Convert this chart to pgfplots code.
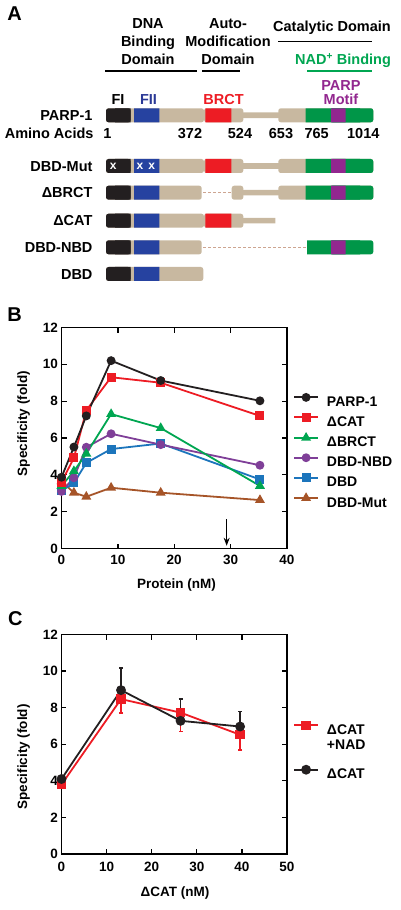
\documentclass[border=0pt]{standalone}
\usepackage{fontspec}
\setmainfont{Liberation Sans}
\usepackage{pgfplots}
\pgfplotsset{compat=1.18}
\usetikzlibrary{arrows.meta}

\definecolor{pblack}{RGB}{35,31,32}
\definecolor{pblue}{RGB}{38,66,160}
\definecolor{beige}{RGB}{200,184,160}
\definecolor{pred}{RGB}{237,28,36}
\definecolor{pgreen}{RGB}{0,150,72}
\definecolor{ppurple}{RGB}{146,39,143}
\definecolor{dashcol}{RGB}{205,165,145}
\definecolor{tgreen}{RGB}{0,166,81}
\definecolor{tblue}{RGB}{43,57,150}
\definecolor{lgreen}{RGB}{0,166,81}
\definecolor{lpurple}{RGB}{127,63,152}
\definecolor{lblue}{RGB}{28,117,188}
\definecolor{lbrown}{RGB}{166,84,40}

\newcommand\shape[6]{%
  \pgfmathsetmacro\ya{#4-#5}\pgfmathsetmacro\yb{#4+#5}%
  \edef\tmp{\noexpand\addplot[fill=#1,draw=none,rounded corners=#6] coordinates {(#2,\ya) (#3,\ya) (#3,\yb) (#2,\yb)} -- cycle;}\tmp}
\newcommand\nterm[1]{%
  \shape{pblack}{106}{130.7}{#1}{7}{2.5pt}\shape{pblack}{115}{130.7}{#1}{7}{0.01pt}%
  \shape{pblue}{134}{159.3}{#1}{7}{0.01pt}}
\newcommand\cterm[1]{%
  \shape{pgreen}{305.7}{360}{#1}{7}{0.01pt}\shape{pgreen}{330}{373.3}{#1}{7}{2.5pt}%
  \shape{ppurple}{331}{345.7}{#1}{7}{0.01pt}}
\newcommand\wholebar[1]{%
  \shape{beige}{240}{281}{#1}{2.8}{0.01pt}%
  \shape{beige}{106}{204}{#1}{7}{2.5pt}%
  \shape{beige}{204}{243.3}{#1}{7}{2.5pt}%
  \shape{beige}{278.3}{373.3}{#1}{7}{2.5pt}%
  \nterm{#1}%
  \shape{pred}{205.3}{231.3}{#1}{7}{0.01pt}%
  \cterm{#1}}

\newcommand\hfont{\fontsize{14.5}{18}\selectfont\bfseries}
\newcommand\tfont{\fontsize{13.5}{15}\selectfont\bfseries}

\begin{document}
\begin{tikzpicture}
\useasboundingbox (0,0) rectangle (400pt,-910pt);
% ---------------- Panel A ----------------
\begin{axis}[at={(0pt,0pt)}, anchor=north west, scale only axis,
  width=400pt, height=910pt, xmin=0, xmax=400, ymin=-910, ymax=0,
  hide axis, clip=false]
\wholebar{-115.3}
\wholebar{-166}
% Delta BRCT
\shape{beige}{240}{281}{-192.7}{2.8}{0.01pt}
\shape{beige}{106}{201.7}{-192.7}{7}{2.5pt}
\shape{beige}{231.7}{243.3}{-192.7}{7}{2.5pt}
\shape{beige}{278.3}{373.3}{-192.7}{7}{2.5pt}
\nterm{-192.7}
\cterm{-192.7}
\addplot[dashcol, line width=0.9pt, dash pattern=on 3pt off 2pt] coordinates {(203,-192.7) (231,-192.7)};
% Delta CAT
\shape{beige}{240}{275.3}{-220.7}{2.8}{0.01pt}
\shape{beige}{106}{204}{-220.7}{7}{2.5pt}
\shape{beige}{204}{243.3}{-220.7}{7}{2.5pt}
\nterm{-220.7}
\shape{pred}{205.3}{231.3}{-220.7}{7}{0.01pt}
% DBD-NBD
\shape{beige}{106}{201.7}{-247.3}{7}{2.5pt}
\nterm{-247.3}
\shape{pgreen}{307}{360}{-247.3}{7}{0.01pt}
\shape{pgreen}{330}{373.3}{-247.3}{7}{2.5pt}
\shape{ppurple}{331}{345.7}{-247.3}{7}{0.01pt}
\addplot[dashcol, line width=0.9pt, dash pattern=on 3pt off 2pt] coordinates {(203,-247.3) (306,-247.3)};
% DBD
\shape{beige}{106}{203.3}{-274}{7}{2.5pt}
\nterm{-274}

% header text
\node[font=\hfont, align=center] at (axis cs:148,-41.7) {DNA\\Binding\\Domain};
\node[font=\hfont, align=center] at (axis cs:228,-41.7) {Auto-\\Modification\\Domain};
\node[font=\hfont, anchor=base] at (axis cs:332,-31.9) {Catalytic Domain};
\node[font=\hfont, anchor=base, text=tgreen] at (axis cs:343,-64.5) {NAD\textsuperscript{+} Binding};
\node[font=\fontsize{14.5}{14}\selectfont\bfseries, align=center, text=ppurple] at (axis cs:341,-92.2) {PARP\\Motif};
\draw[line width=1.1pt] (axis cs:105,-71) -- (axis cs:197,-71);
\draw[line width=1.1pt] (axis cs:202,-71) -- (axis cs:240,-71);
\draw[line width=1.1pt] (axis cs:278,-41.7) -- (axis cs:372,-41.7);
\draw[line width=1.1pt, tgreen] (axis cs:307,-71) -- (axis cs:372,-71);
\node[font=\hfont, anchor=base] at (axis cs:118,-104.5) {FI};
\node[font=\hfont, anchor=base, text=tblue] at (axis cs:148.5,-104.5) {FII};
\node[font=\hfont, anchor=base, text=pred] at (axis cs:223.5,-104.5) {BRCT};
% left labels
\node[font=\hfont, anchor=base east] at (axis cs:96,-120.5) {PARP-1};
\node[font=\hfont, anchor=base east] at (axis cs:97,-138.5) {Amino Acids};
\node[font=\hfont, anchor=base] at (axis cs:107.3,-138.5) {1};
\node[font=\hfont, anchor=base] at (axis cs:190,-138.5) {372};
\node[font=\hfont, anchor=base] at (axis cs:240,-138.5) {524};
\node[font=\hfont, anchor=base] at (axis cs:281,-138.5) {653};
\node[font=\hfont, anchor=base] at (axis cs:316.7,-138.5) {765};
\node[font=\hfont, anchor=base] at (axis cs:363.3,-138.5) {1014};
\node[font=\hfont, anchor=base east] at (axis cs:96,-171.2) {DBD-Mut};
\node[font=\hfont, anchor=base east] at (axis cs:96,-197.9) {ΔBRCT};
\node[font=\hfont, anchor=base east] at (axis cs:96,-225.9) {ΔCAT};
\node[font=\hfont, anchor=base east] at (axis cs:96,-252.5) {DBD-NBD};
\node[font=\hfont, anchor=base east] at (axis cs:96,-279.2) {DBD};
\node[font=\fontsize{12}{12}\selectfont\bfseries, text=white] at (axis cs:113.3,-166.5) {x};
\node[font=\fontsize{12}{12}\selectfont\bfseries, text=white] at (axis cs:140,-166.5) {x};
\node[font=\fontsize{12}{12}\selectfont\bfseries, text=white] at (axis cs:151.7,-166.5) {x};
% panel letters
\node[font=\fontsize{20}{20}\selectfont\bfseries] at (axis cs:14.7,-14) {A};
\node[font=\fontsize{20}{20}\selectfont\bfseries] at (axis cs:14.5,-314.5) {B};
\node[font=\fontsize{20}{20}\selectfont\bfseries] at (axis cs:15.3,-618.3) {C};
\end{axis}

% ---------------- Panel B ----------------
\begin{axis}[at={(61.5pt,-548.5pt)}, anchor=south west, scale only axis,
  width=225.5pt, height=221pt, xmin=0, xmax=40, ymin=0, ymax=12,
  xtick={0,10,...,40}, ytick={0,2,...,12},
  axis line style={line width=1.3pt}, tick style={line width=1.3pt, black},
  major tick length=5pt,
  tick label style={font=\tfont}, /pgf/number format/assume math mode=true,
  xticklabel style={yshift=-3.5pt},
  xlabel={Protein (nM)}, ylabel={Specificity (fold)},
  every axis x label/.style={at={(axis description cs:0.51,-0.165)}, anchor=center, font=\tfont},
  every axis y label/.style={at={(axis description cs:-0.168,0.565)}, rotate=90, anchor=center, font=\tfont},
  clip=false,
  legend image code/.code={\draw[mark repeat=2,mark phase=2,#1] plot coordinates {(0pt,5pt) (12pt,5pt) (24pt,5pt)};},
  reverse legend,
  legend style={at={(axis description cs:1.0266,0.7005)}, anchor=north west, draw=none, fill=none,
    inner sep=0pt, font=\fontsize{14}{16}\selectfont\bfseries, row sep=5.8pt, column sep=8pt,
    nodes={inner sep=0pt}, cells={anchor=base west}},
  legend cell align=left]
\addplot[lbrown, line width=1.8pt, mark=triangle*, mark size=4pt, mark options={solid}] coordinates {(0,3.65) (2.2,3.03) (4.4,2.81) (8.8,3.3) (17.6,3.03) (35.2,2.63)};
\addlegendentry{DBD-Mut}
\addplot[lblue, line width=1.8pt, mark=square*, mark size=3.6pt, mark options={solid}] coordinates {(0,3.13) (2.2,3.56) (4.4,4.65) (8.8,5.4) (17.6,5.7) (35.2,3.75)};
\addlegendentry{DBD}
\addplot[lpurple, line width=1.8pt, mark=*, mark size=3.5pt, mark options={solid}] coordinates {(0,3.1) (2.2,3.84) (4.4,5.5) (8.8,6.23) (17.6,5.64) (35.2,4.52)};
\addlegendentry{DBD-NBD}
\addplot[lgreen, line width=1.8pt, mark=triangle*, mark size=4pt, mark options={solid}] coordinates {(0,3.4) (2.2,4.2) (4.4,5.15) (8.8,7.3) (17.6,6.54) (35.2,3.4)};
\addlegendentry{ΔBRCT}
\addplot[pred, line width=1.8pt, mark=square*, mark size=3.6pt, mark options={solid}] coordinates {(0,3.6) (2.2,4.92) (4.4,7.5) (8.8,9.3) (17.6,9.0) (35.2,7.2)};
\addlegendentry{ΔCAT}
\addplot[pblack, line width=1.8pt, mark=*, mark size=3.5pt, mark options={solid}] coordinates {(0,3.87) (2.2,5.51) (4.4,7.2) (8.8,10.2) (17.6,9.12) (35.2,8.02)};
\addlegendentry{PARP-1}
\addplot[black, line width=1.2pt, -{Stealth[length=8pt,width=6pt]}, forget plot] coordinates {(29.3,1.6) (29.3,0.15)};
\end{axis}

% ---------------- Panel C ----------------
\begin{axis}[at={(61.5pt,-854pt)}, anchor=south west, scale only axis,
  width=225.5pt, height=219.5pt, xmin=0, xmax=50, ymin=0, ymax=12,
  xtick={0,10,...,50}, ytick={0,2,...,12},
  axis line style={line width=1.3pt}, tick style={line width=1.3pt, black},
  major tick length=5pt,
  tick label style={font=\tfont}, /pgf/number format/assume math mode=true,
  xticklabel style={yshift=-5pt},
  xlabel={ΔCAT (nM)}, ylabel={Specificity (fold)},
  every axis x label/.style={at={(axis description cs:0.503,-0.178)}, anchor=center, font=\tfont},
  every axis y label/.style={at={(axis description cs:-0.168,0.442)}, rotate=90, anchor=center, font=\tfont},
  clip=false,
  legend image code/.code={\draw[mark repeat=2,mark phase=2,#1] plot coordinates {(0pt,5pt) (12pt,5pt) (24pt,5pt)};},
  legend style={at={(axis description cs:1.0266,0.605)}, anchor=north west, draw=none, fill=none,
    inner sep=0pt, font=\fontsize{14}{15}\selectfont\bfseries, row sep=29.5pt, column sep=8pt,
    nodes={inner sep=0pt}, cells={anchor=base west}},
  legend cell align=left]
\addplot[pred, line width=1.8pt, mark=square*, mark size=3.8pt, mark options={solid},
  error bars/.cd, y dir=minus, y explicit, error bar style={line width=1.5pt},
  error mark options={rotate=90, mark size=2pt, line width=1.5pt}]
  coordinates {(0,3.8) +- (0,0) (13.2,8.47) +- (0,0.76) (26.4,7.73) +- (0,1.03) (39.6,6.52) +- (0,0.83)};
\addlegendentry{\begin{tabular}[t]{@{}l@{}}ΔCAT\\+NAD\end{tabular}}
\addplot[pblack, line width=1.8pt, mark=*, mark size=4pt, mark options={solid},
  error bars/.cd, y dir=plus, y explicit, error bar style={line width=1.5pt},
  error mark options={rotate=90, mark size=2pt, line width=1.5pt}]
  coordinates {(0,4.1) +- (0,0) (13.2,8.96) +- (0,1.22) (26.4,7.28) +- (0,1.19) (39.6,6.97) +- (0,0.81)};
\addlegendentry{ΔCAT}
\end{axis}
\end{tikzpicture}
\end{document}
